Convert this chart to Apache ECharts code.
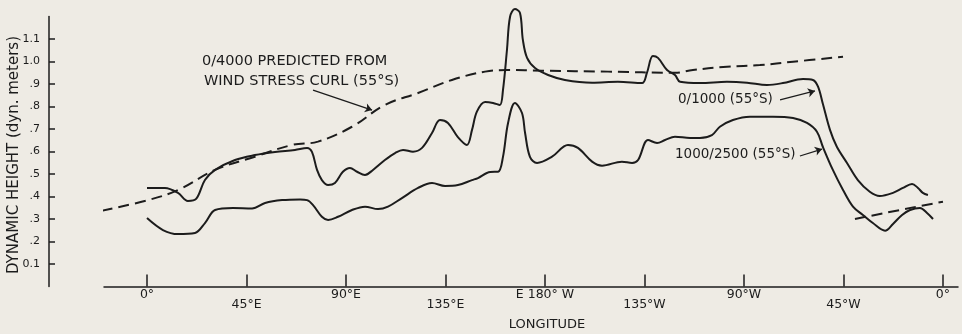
<!DOCTYPE html>
<html>
<head>
<meta charset="utf-8">
<script src="https://cdn.jsdelivr.net/npm/echarts@6/dist/echarts.min.js"></script>
<style>
  html, body { margin: 0; padding: 0; background: #eeebe4; }
  #chart { width: 962px; height: 334px; }
</style>
</head>
<body>
<div id="chart"></div>
<script>
// longitude in degrees east of 0 (0..360), dynamic height in dyn. meters
var xTicks = [0, 45, 90, 135, 180, 225, 270, 315, 360]
var xTickLabels = ['0°', '45°E', '90°E', '135°E', 'E 180° W', '135°W', '90°W', '45°W', '0°']
var yTicks = [0.1, 0.2, 0.3, 0.4, 0.5, 0.6, 0.7, 0.8, 0.9, 1.0, 1.1]

// 0/1000 (55°S)
var lon1000 = [0, 8.1, 14.0, 18.5, 22.2, 26.2, 30.8, 39.8, 48.8, 57.9, 66.9, 72.4, 74.6, 76.9, 79.1, 81.9,
  85.0, 88.6, 91.8, 95.0, 98.6, 102.2, 107.6, 112.2, 115.8, 120.3, 124.4, 128.9, 132.5, 136.1, 140.6,
  144.7, 147.0, 149.2, 152.9, 156.5, 159.6, 161.0, 162.8, 164.2, 166.4, 168.7, 170.0, 171.9, 175.5,
  181.4, 189.0, 201.3, 213.0, 223.9, 226.1, 228.8, 231.1, 235.2, 238.8, 241.1, 250.1, 262.3, 271.4,
  280.4, 287.6, 296.7, 301.2, 303.5, 305.7, 308.9, 312.0, 316.6, 321.5, 326.9, 331.4, 337.4, 341.9,
  346.0, 348.7, 350.9, 353.2]
var dh1000 = [0.438, 0.438, 0.416, 0.380, 0.389, 0.473, 0.518, 0.562, 0.584, 0.598, 0.607, 0.616, 0.598,
  0.518, 0.473, 0.451, 0.460, 0.510, 0.527, 0.510, 0.496, 0.518, 0.562, 0.593, 0.607, 0.599, 0.616,
  0.682, 0.740, 0.727, 0.664, 0.629, 0.696, 0.777, 0.820, 0.816, 0.807, 0.873, 1.051, 1.199, 1.233,
  1.216, 1.096, 1.016, 0.971, 0.940, 0.918, 0.906, 0.910, 0.904, 0.949, 1.024, 1.016, 0.962, 0.940,
  0.910, 0.904, 0.910, 0.906, 0.896, 0.904, 0.922, 0.918, 0.888, 0.811, 0.696, 0.621, 0.549, 0.473,
  0.421, 0.402, 0.416, 0.438, 0.456, 0.438, 0.416, 0.407]

// 1000/2500 (55°S)
var lon2500 = [0, 7.2, 14.0, 21.7, 26.2, 30.8, 38.9, 47.5, 53.4, 61.1, 69.2, 72.4, 75.1, 79.1, 81.9,
  86.4, 92.7, 98.6, 104.5, 109.0, 115.3, 122.6, 128.9, 134.8, 140.6, 147.0, 149.7, 155.2, 158.8, 161.0,
  163.3, 166.4, 169.6, 171.0, 173.2, 176.4, 183.2, 190.4, 194.9, 201.3, 205.8, 214.8, 219.4, 222.1,
  226.6, 230.7, 234.3, 238.8, 245.6, 250.1, 255.5, 259.1, 265.0, 272.7, 283.1, 292.2, 298.5, 303.0,
  305.7, 310.2, 314.8, 319.3, 323.8, 328.3, 333.8, 337.4, 341.5, 345.1, 349.6, 352.8, 355.5]
var dh2500 = [0.304, 0.251, 0.233, 0.238, 0.282, 0.340, 0.349, 0.347, 0.371, 0.384, 0.387, 0.384, 0.362,
  0.310, 0.296, 0.310, 0.340, 0.355, 0.344, 0.355, 0.393, 0.438, 0.460, 0.447, 0.451, 0.473, 0.482,
  0.509, 0.510, 0.576, 0.727, 0.816, 0.771, 0.682, 0.576, 0.549, 0.577, 0.629, 0.616, 0.555, 0.537,
  0.555, 0.549, 0.562, 0.651, 0.638, 0.651, 0.666, 0.660, 0.660, 0.673, 0.710, 0.740, 0.755, 0.755,
  0.749, 0.727, 0.688, 0.620, 0.518, 0.429, 0.355, 0.318, 0.282, 0.248, 0.278, 0.318, 0.340, 0.349,
  0.327, 0.300]

// 0/4000 predicted from wind stress curl (55°S)
var lon4000 = [-20.5, 0.5, 14.0, 30.8, 48.8, 65.6, 77.3, 92.7, 107.6, 122.6, 137.9, 152.9, 163.3, 178.6,
  208.5, 238.8, 246.9, 262.3, 277.2, 292.2, 314.8]
var dh4000 = [0.337, 0.384, 0.429, 0.518, 0.577, 0.629, 0.644, 0.710, 0.807, 0.860, 0.918, 0.955, 0.962,
  0.959, 0.955, 0.950, 0.962, 0.977, 0.984, 0.999, 1.021]
// short continuation of the predicted curve near 0°
var lon4000b = [320.2, 340.5, 360]
var dh4000b = [0.300, 0.340, 0.377]

var ink = '#1c1c1c'
var font = 'DejaVu Sans'

function pairs(xs, ys) {
  return xs.map(function (x, i) { return [x, ys[i]] })
}

var chart = echarts.init(document.getElementById('chart'))
var option = {
  backgroundColor: '#eeebe4',
  animation: false,
  grid: { left: 104, right: 4, top: 16.5, bottom: 47.5, outerBoundsMode: 'none' },
  xAxis: {
    type: 'value',
    min: -19.45,
    max: 366.8,
    name: 'LONGITUDE',
    nameLocation: 'middle',
    nameGap: 32,
    nameMoveOverlap: false,
    nameTextStyle: { color: ink, fontFamily: font, fontSize: 13, padding: [0, 0, 0, 32] },
    axisLine: { onZero: false, lineStyle: { color: ink, width: 1.5 } },
    axisTick: { inside: true, length: 12, customValues: xTicks, lineStyle: { color: ink, width: 1.5 } },
    axisLabel: {
      customValues: xTicks,
      color: ink,
      fontFamily: font,
      fontSize: 12.5,
      lineHeight: 10,
      margin: 3,
      formatter: function (v) {
        var i = xTicks.indexOf(Math.round(v))
        return i % 2 === 1 ? '\n' + xTickLabels[i] : xTickLabels[i]
      }
    },
    splitLine: { show: false }
  },
  yAxis: {
    type: 'value',
    min: 0,
    max: 1.2,
    offset: 55,
    name: 'DYNAMIC HEIGHT (dyn. meters)',
    nameLocation: 'middle',
    nameGap: 27,
    nameMoveOverlap: false,
    nameTextStyle: { color: ink, fontFamily: font, fontSize: 15, padding: [0, 7, 0, 0] },
    axisLine: { show: true, onZero: false, lineStyle: { color: ink, width: 1.5 } },
    axisTick: { show: true, inside: true, length: 6, customValues: yTicks, lineStyle: { color: ink, width: 1.5 } },
    axisLabel: {
      customValues: yTicks,
      color: ink,
      fontFamily: font,
      fontSize: 11,
      margin: 9,
      formatter: function (v) {
        var t = Math.round(v * 10)
        if (t === 11) return '1.1'
        if (t === 10) return '1.0'
        if (t === 1) return '0.1'
        return '.' + t
      }
    },
    splitLine: { show: false }
  },
  graphic: [
    { type: 'text', left: 202, top: 54, style: { text: '0/4000 PREDICTED FROM', fill: ink, font: '14.5px ' + font } },
    { type: 'text', left: 204, top: 74, style: { text: 'WIND STRESS CURL (55°S)', fill: ink, font: '14.5px ' + font } },
    { type: 'text', left: 678, top: 92, style: { text: '0/1000 (55°S)', fill: ink, font: '13.5px ' + font } },
    { type: 'text', left: 675, top: 147, style: { text: '1000/2500 (55°S)', fill: ink, font: '13.5px ' + font } }
  ],
  series: [
    {
      name: '0/1000 (55°S)',
      type: 'line',
      data: pairs(lon1000, dh1000),
      showSymbol: false,
      smooth: 0.35,
      clip: false,
      lineStyle: { color: ink, width: 2 },
      markLine: {
        silent: true,
        symbol: ['none', 'arrow'],
        symbolSize: 7,
        label: { show: false },
        lineStyle: { color: ink, width: 1.3, type: 'solid' },
        data: [[{ coord: [286.3, 0.829] }, { coord: [302.1, 0.869] }]]
      }
    },
    {
      name: '1000/2500 (55°S)',
      type: 'line',
      data: pairs(lon2500, dh2500),
      showSymbol: false,
      smooth: 0.35,
      clip: false,
      lineStyle: { color: ink, width: 2 },
      markLine: {
        silent: true,
        symbol: ['none', 'arrow'],
        symbolSize: 7,
        label: { show: false },
        lineStyle: { color: ink, width: 1.3, type: 'solid' },
        data: [[{ coord: [295.3, 0.580] }, { coord: [305.3, 0.611] }]]
      }
    },
    {
      name: '0/4000 predicted',
      type: 'line',
      data: pairs(lon4000, dh4000),
      showSymbol: false,
      smooth: 0.4,
      clip: false,
      lineStyle: { color: ink, width: 2, type: [11, 6] },
      markLine: {
        silent: true,
        symbol: ['none', 'arrow'],
        symbolSize: 7,
        label: { show: false },
        lineStyle: { color: ink, width: 1.3, type: 'solid', curveness: 0.2 },
        data: [[{ coord: [75.1, 0.873] }, { coord: [101.8, 0.784] }]]
      }
    },
    {
      name: '0/4000 predicted (cont.)',
      type: 'line',
      data: pairs(lon4000b, dh4000b),
      showSymbol: false,
      smooth: true,
      clip: false,
      lineStyle: { color: ink, width: 2, type: [11, 6] }
    }
  ]
}
chart.setOption(option)
</script>
</body>
</html>
